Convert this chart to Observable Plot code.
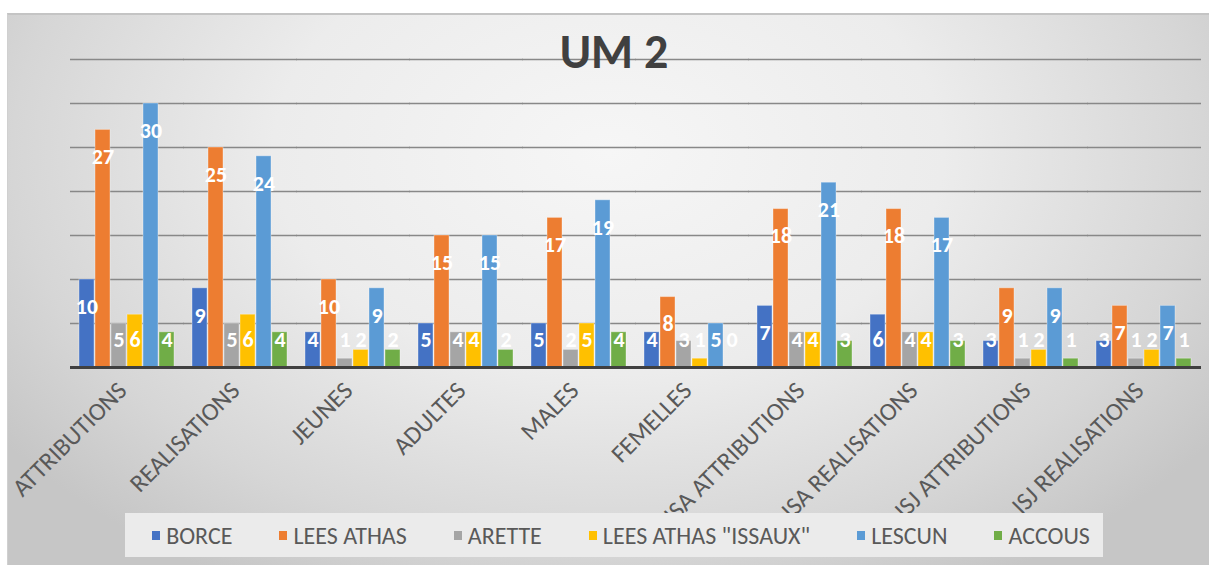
<!DOCTYPE html>
<html>
<head>
<meta charset="utf-8">
<script src="https://cdn.jsdelivr.net/npm/d3@7"></script>
<script src="https://cdn.jsdelivr.net/npm/@observablehq/plot@0.6"></script>
<style>
  html, body { margin: 0; padding: 0; background: #ffffff; }
  #wrap { position: relative; width: 1209px; height: 565px; overflow: hidden; font-family: Carlito, Lato, "Open Sans", sans-serif; }
  #area { position: absolute; left: 7px; top: 13px; width: 1202px; height: 552px;
    background: radial-gradient(ellipse 62% 90% at 50% 25%, #f6f6f6 0%, #ececec 45%, #d6d6d6 80%, #c6c6c6 100%);
    border-top: 2px solid #c4c4c4; border-left: 1px solid #d0d0d0; box-sizing: border-box; }
  #title { position: absolute; left: 0; width: 1228px; top: 24px; text-align: center; font-size: 48px; font-weight: 700; color: #404040; z-index: 3; line-height: 56px; }
  #chart { position: absolute; left: 0; top: 0; z-index: 2; }
  #legend { position: absolute; left: 125px; top: 513px; width: 978px; height: 44px; background: #ebebeb;
    display: flex; justify-content: center; align-items: center; gap: 47px; z-index: 4; font-size: 24px; color: #595959; padding-left: 14px; box-sizing: border-box; }
  .item { display: flex; align-items: center; }
  .sw { width: 8px; height: 9px; margin-right: 6px; }
</style>
</head>
<body>
<div id="wrap">
  <div id="area"></div>
  <div id="chart"></div>
  <div id="title">UM 2</div>
  <div id="legend"></div>
</div>
<script>
const categories = ["ATTRIBUTIONS", "REALISATIONS", "JEUNES", "ADULTES", "MALES", "FEMELLES",
  "ISA ATTRIBUTIONS", "ISA REALISATIONS", "ISJ ATTRIBUTIONS", "ISJ REALISATIONS"];
const series = ["BORCE", "LEES ATHAS", "ARETTE", "LEES ATHAS \"ISSAUX\"", "LESCUN", "ACCOUS"];
const colors = ["#4472C4", "#ED7D31", "#A5A5A5", "#FFC000", "#5B9BD5", "#70AD47"];
const borce     = [10, 9, 4, 5, 5, 4, 7, 6, 3, 3];
const leesAthas = [27, 25, 10, 15, 17, 8, 18, 18, 9, 7];
const arette    = [5, 5, 1, 4, 2, 3, 4, 4, 1, 1];
const issaux    = [6, 6, 2, 4, 5, 1, 4, 4, 2, 2];
const lescun    = [30, 24, 9, 15, 19, 5, 21, 17, 9, 7];
const accous    = [4, 4, 2, 2, 4, 0, 3, 3, 1, 1];
const gridTicks = [0, 5, 10, 15, 20, 25, 30, 35];

const seriesValues = [borce, leesAthas, arette, issaux, lescun, accous];
const data = [];
categories.forEach((c, i) => {
  series.forEach((s, j) => data.push({cat: c, series: s, value: seriesValues[j][i]}));
});

const plot = Plot.plot({
  width: 1209,
  height: 565,
  marginLeft: 67,
  marginRight: 6,
  marginTop: 59,
  marginBottom: 198,
  style: {background: "transparent", fontFamily: "Carlito, Lato, 'Open Sans', sans-serif", color: "#595959"},
  fx: {domain: categories, paddingInner: 0.1, paddingOuter: 0.05, label: null},
  x: {domain: series, axis: null, padding: 0.06},
  y: {domain: [0, 35], axis: null},
  color: {domain: series, range: colors},
  marks: [
    Plot.ruleY(gridTicks.filter(t => t > 0), {stroke: "#888888", strokeWidth: 1.5, insetLeft: -6, insetRight: -6}),
    Plot.barY(data, {fx: "cat", x: "series", y: "value", fill: "series", stroke: "#ffffff", strokeOpacity: 0.35, strokeWidth: 1}),
    Plot.ruleY([0], {stroke: "#404040", strokeWidth: 3, insetLeft: -6, insetRight: -6}),
    Plot.text(data, {fx: "cat", x: "series", y: d => Math.max(d.value - 3.1, 3.1), text: d => String(d.value),
      fill: "#ffffff", fontSize: 22, fontWeight: 700}),
    Plot.axisFx({anchor: "bottom", tickRotate: -45, tickSize: 0, tickPadding: 19, dx: -5, fontSize: 25, label: null, fill: "#595959"})
  ]
});
document.getElementById("chart").appendChild(plot);

const legend = document.getElementById("legend");
series.forEach((s, j) => {
  const it = document.createElement("div");
  it.className = "item";
  const sw = document.createElement("span");
  sw.className = "sw";
  sw.style.background = colors[j];
  const tx = document.createElement("span");
  tx.textContent = s;
  it.appendChild(sw); it.appendChild(tx);
  legend.appendChild(it);
});
</script>
</body>
</html>
